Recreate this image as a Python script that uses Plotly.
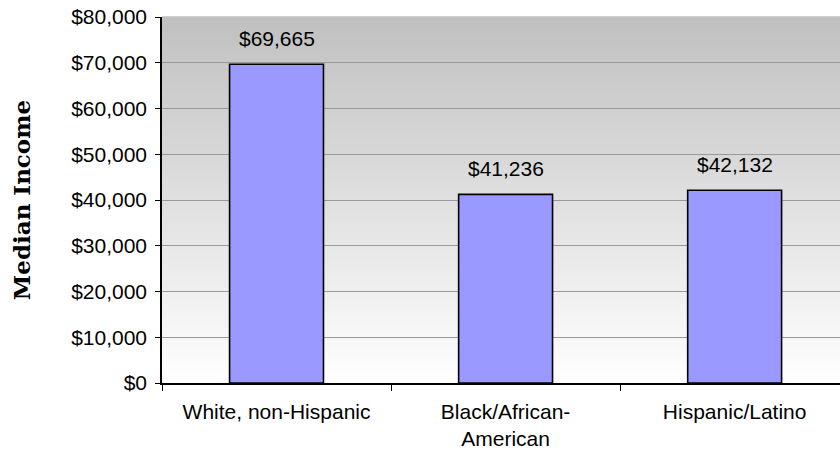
import plotly.graph_objects as go

categories = ["White, non-Hispanic", "Black/African-<br>American", "Hispanic/Latino"]
incomes = [69665, 41236, 42132]
value_labels = ["$69,665", "$41,236", "$42,132"]
y_tick_vals = [0, 10000, 20000, 30000, 40000, 50000, 60000, 70000, 80000]
y_tick_text = ["$0", "$10,000", "$20,000", "$30,000", "$40,000", "$50,000", "$60,000", "$70,000", "$80,000"]

fig = go.Figure()
fig.add_trace(go.Bar(
    x=categories, y=incomes, width=0.41,
    marker=dict(color="#9999ff", line=dict(color="#000000", width=1.6)),
    hoverinfo="skip",
))

# label annotations above bars
for c, v, t in zip(categories, incomes, value_labels):
    fig.add_annotation(x=c, y=v, text=t, showarrow=False, yanchor="bottom",
                       yshift=12, font=dict(family="Liberation Sans, Arial", size=21, color="#000"))

# gradient background (top gray -> bottom white)
N = 120
shapes = []
for i in range(N):
    f = (i + 0.5) / N  # 0 at bottom, 1 at top
    g = round(255 - (255 - 192) * f)
    col = f"rgb({g},{g},{g})"
    shapes.append(dict(type="rect", xref="paper", yref="paper", x0=0, x1=1,
                       y0=i / N, y1=(i + 1) / N + 0.002, fillcolor=col,
                       line=dict(width=0), layer="below"))

fig.update_layout(
    width=840, height=458,
    margin=dict(l=162, r=0, t=17, b=75),
    paper_bgcolor="white", plot_bgcolor="white",
    shapes=shapes,
    showlegend=False,
    font=dict(family="Liberation Sans, Arial", size=21, color="#000"),
    xaxis=dict(
        range=[-0.5, 2.46], showgrid=False,
        showline=True, linecolor="#000", linewidth=1.5,
        ticks="outside", tickson="boundaries", ticklen=6, tickcolor="#000", tickwidth=1,
        tickfont=dict(family="Liberation Sans, Arial", size=21, color="#000"),
        ticklabelstandoff=9,
    ),
    yaxis=dict(
        range=[0, 80000], tickvals=y_tick_vals, ticktext=y_tick_text,
        showgrid=True, gridcolor="#999999", gridwidth=1,
        showline=True, linecolor="#000", linewidth=1.5,
        ticks="outside", ticklen=5, tickcolor="#000", tickwidth=1,
        tickfont=dict(family="Liberation Sans, Arial", size=21, color="#000"),
        ticklabelstandoff=4,
        zeroline=False,
        title=dict(text="<b>Median Income</b>", standoff=34,
                   font=dict(family="DejaVu Serif", size=23, weight="bold", color="#000")),
    ),
)

fig.write_html("out.html")
